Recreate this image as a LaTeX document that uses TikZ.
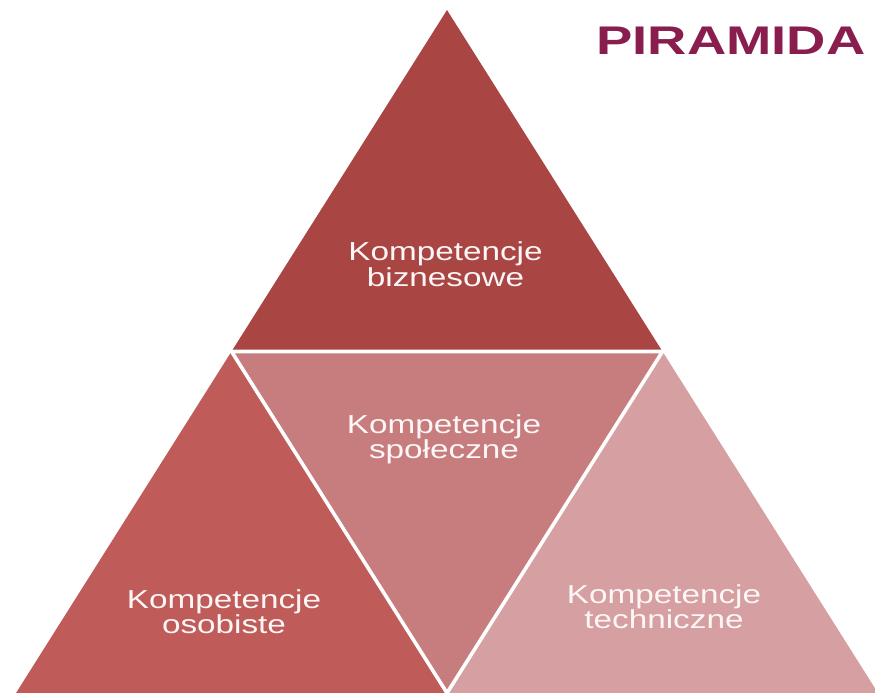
\documentclass[tikz,border=0pt]{standalone}
\usepackage{fontspec}
\setmainfont{Liberation Sans}
\definecolor{ctop}{RGB}{169,70,68}
\definecolor{cleft}{RGB}{191,91,89}
\definecolor{cmid}{RGB}{199,124,126}
\definecolor{cright}{RGB}{214,159,161}
\definecolor{ctitle}{RGB}{137,29,78}
\definecolor{ctext}{RGB}{252,246,246}
\tikzset{
  lbl/.style={anchor=base, inner sep=0pt, text=ctext, font=\fontsize{26}{28}\selectfont},
  gap/.style={draw=white, line width=3.6pt, line join=miter},
}
\newcommand{\wide}[1]{\scalebox{1.28}[1]{#1}}
\newcommand{\widet}[1]{\scalebox{1.36}[1]{#1}}
\begin{document}
\begin{tikzpicture}[x=1pt,y=-1pt]
\useasboundingbox (0,0) rectangle (875,693);
\clip (0,0) rectangle (875,693);
\coordinate (A) at (447,10);
\coordinate (BL) at (16,693);
\coordinate (BR) at (878,693);
\coordinate (L) at (231.5,351.5);
\coordinate (R) at (662.5,351.5);
\coordinate (BM) at (447,693);
\fill[ctop] (A) -- (L) -- (R) -- cycle;
\fill[cleft] (L) -- (BL) -- (BM) -- cycle;
\fill[cmid] (L) -- (R) -- (BM) -- cycle;
\fill[cright] (R) -- (BM) -- (BR) -- cycle;
\draw[gap] (L) -- (R) -- (BM) -- cycle;
\node[anchor=base, inner sep=0pt, text=ctitle, font=\fontsize{40}{42}\selectfont\bfseries] (title) at (731,55) {\widet{PIRAMIDA}};
\node[lbl] (b1) at (445.5,260) {\wide{Kompetencje}};
\node[lbl] (b2) at (445.5,286) {\wide{biznesowe}};
\node[lbl] (s1) at (444,433) {\wide{Kompetencje}};
\node[lbl] (s2) at (444,458) {\wide{społeczne}};
\node[lbl] (o1) at (224,608) {\wide{Kompetencje}};
\node[lbl] (o2) at (224,633) {\wide{osobiste}};
\node[lbl] (t1) at (664,603) {\wide{Kompetencje}};
\node[lbl] (t2) at (664,628) {\wide{techniczne}};
\end{tikzpicture}
\end{document}
